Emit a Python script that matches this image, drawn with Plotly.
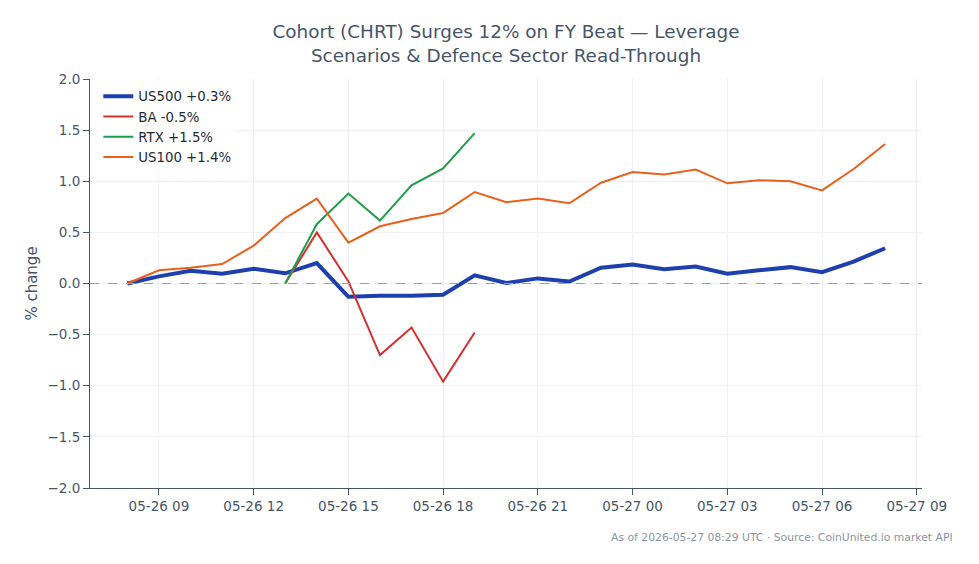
import plotly.graph_objects as go
import pandas as pd

times = pd.date_range("2026-05-26 08:00", "2026-05-27 08:00", freq="h")

us500 = [0.0, 0.07, 0.125, 0.095, 0.145, 0.10, 0.20, -0.13, -0.12, -0.12, -0.11, 0.08,
         0.005, 0.05, 0.02, 0.155, 0.185, 0.14, 0.165, 0.095, 0.13, 0.16, 0.11, 0.215, 0.345]
ba_times = times[5:12]
ba = [0.0, 0.50, 0.02, -0.70, -0.43, -0.96, -0.48]
rtx_times = times[5:12]
rtx = [0.0, 0.58, 0.88, 0.615, 0.96, 1.125, 1.47]
us100 = [0.0, 0.13, 0.155, 0.19, 0.37, 0.64, 0.83, 0.40, 0.56, 0.63, 0.69, 0.895,
         0.795, 0.83, 0.785, 0.985, 1.09, 1.065, 1.115, 0.98, 1.01, 1.00, 0.91, 1.12, 1.365]

tick_vals = pd.date_range("2026-05-26 09:00", "2026-05-27 09:00", freq="3h")
tick_text = [t.strftime("%m-%d %H") for t in tick_vals]

txt = "#475569"
fig = go.Figure()
fig.add_trace(go.Scatter(x=times, y=us500, mode="lines", name="US500 +0.3%",
                         line=dict(color="#1e40af", width=4)))
fig.add_trace(go.Scatter(x=ba_times, y=ba, mode="lines", name="BA -0.5%",
                         line=dict(color="#d62f2f", width=2)))
fig.add_trace(go.Scatter(x=rtx_times, y=rtx, mode="lines", name="RTX +1.5%",
                         line=dict(color="#1e9e4a", width=2)))
fig.add_trace(go.Scatter(x=times, y=us100, mode="lines", name="US100 +1.4%",
                         line=dict(color="#e8601c", width=2)))

fig.add_hline(y=0, line=dict(color="#8da0c2", width=1.2, dash="dash"))

fig.update_layout(
    width=979, height=564,
    margin=dict(l=90, r=57, t=79, b=76),
    paper_bgcolor="white", plot_bgcolor="white",
    font=dict(family="DejaVu Sans", color=txt, size=13.5),
    title=dict(text="Cohort (CHRT) Surges 12% on FY Beat — Leverage<br>Scenarios & Defence Sector Read-Through",
               x=0.5, xref="paper", xanchor="center", y=0.933, yanchor="top",
               font=dict(size=18.4, color=txt)),
    legend=dict(x=0.01, y=0.995, xanchor="left", yanchor="top",
                bgcolor="rgba(255,255,255,0.8)", font=dict(size=13.3, color="#1f2937")),
    showlegend=True,
)
fig.update_xaxes(
    range=["2026-05-26 06:49", "2026-05-27 09:10"],
    tickvals=tick_vals, ticktext=tick_text,
    showgrid=True, gridcolor="#eef0f3", gridwidth=1,
    showline=True, linecolor="#475569", linewidth=1,
    ticks="outside", tickcolor="#475569", ticklen=6,
    zeroline=False,
)
fig.update_yaxes(
    range=[-2.0, 2.0], dtick=0.5, tickformat=".1f",
    title=dict(text="% change", font=dict(size=15, color=txt), standoff=6),
    showgrid=True, gridcolor="#eef0f3", gridwidth=1,
    showline=True, linecolor="#475569", linewidth=1,
    ticks="outside", tickcolor="#475569", ticklen=6,
    zeroline=False,
)
fig.add_annotation(text="As of 2026-05-27 08:29 UTC · Source: CoinUnited.io market API",
                   xref="paper", yref="paper", x=1.04, y=-0.1, xanchor="right", yanchor="top",
                   showarrow=False, font=dict(size=10.8, color="#8a94a3"))

fig.write_html("out.html")
